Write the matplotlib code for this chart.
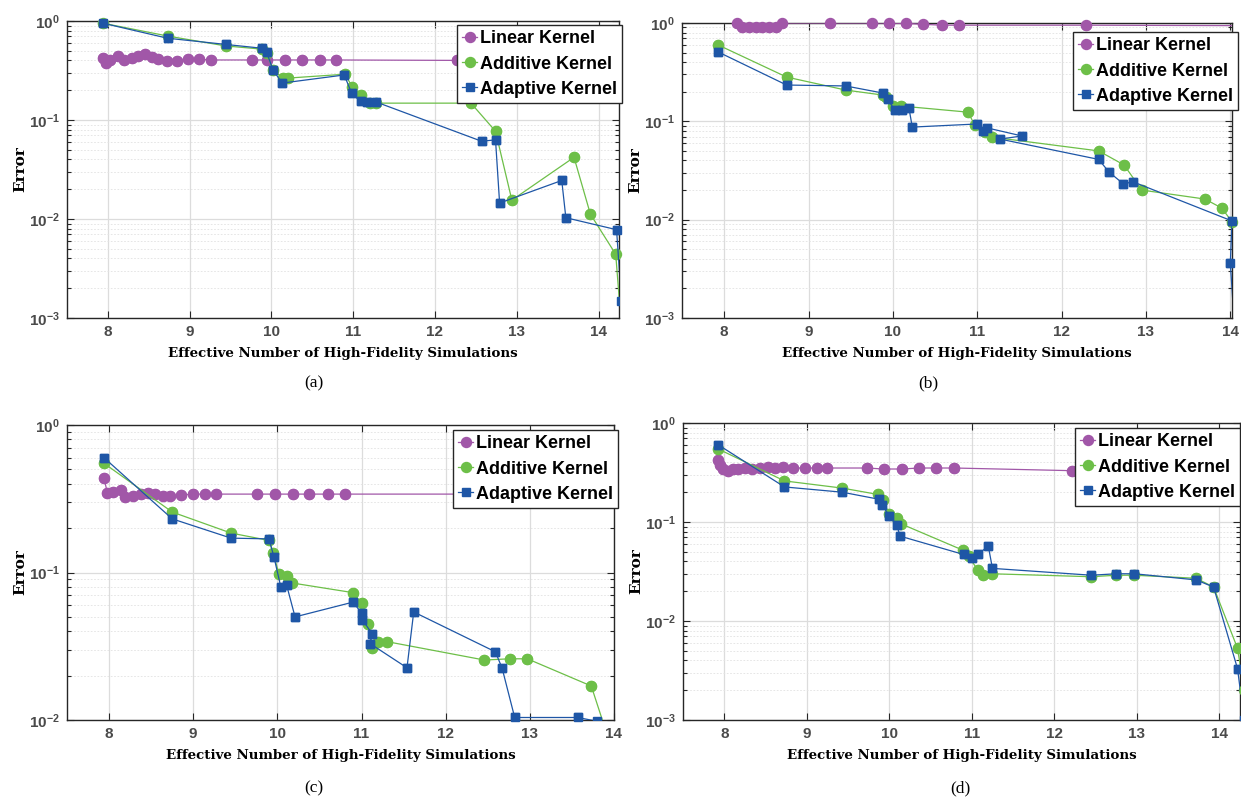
import numpy as np
import matplotlib
matplotlib.use("Agg")
import matplotlib.pyplot as plt
from matplotlib.lines import Line2D
from matplotlib.ticker import FixedLocator, LogLocator, NullLocator, NullFormatter

plt.rcParams["mathtext.fontset"] = "custom"
plt.rcParams["mathtext.rm"] = "Liberation Sans:bold"
plt.rcParams["mathtext.bf"] = "Liberation Sans:bold"
plt.rcParams["mathtext.it"] = "Liberation Sans:bold"

# ---------------- data ----------------
labels = ["Linear Kernel", "Additive Kernel", "Adaptive Kernel"]
captions = ["(a)", "(b)", "(c)", "(d)"]
x_ticks = [8, 9, 10, 11, 12, 13, 14]

# (a)
a_lin_x = [7.94, 7.98, 8.02, 8.12, 8.20, 8.29, 8.37, 8.45, 8.54, 8.61, 8.72, 8.85,
           8.98, 9.12, 9.26, 9.76, 9.94, 10.17, 10.37, 10.59, 10.79, 12.27, 14.27]
a_lin_y = [0.42, 0.373, 0.404, 0.443, 0.404, 0.42, 0.443, 0.46, 0.436, 0.41, 0.394, 0.394,
           0.41, 0.41, 0.404, 0.404, 0.404, 0.404, 0.404, 0.404, 0.404, 0.40, 0.41]
a_add_x = [7.94, 8.73, 9.44, 9.88, 9.94, 10.02, 10.14, 10.20, 10.90, 10.99, 11.10, 11.20,
           11.28, 12.44, 12.74, 12.94, 13.70, 13.90, 14.21, 14.30]
a_add_y = [0.95, 0.705, 0.56, 0.52, 0.475, 0.32, 0.265, 0.265, 0.29, 0.215, 0.18, 0.148,
           0.148, 0.148, 0.077, 0.0155, 0.042, 0.0112, 0.0044, 0.0005]
a_ada_x = [7.94, 8.73, 9.44, 9.89, 9.94, 10.02, 10.13, 10.89, 10.98, 11.09, 11.17, 11.28,
           12.57, 12.74, 12.79, 13.55, 13.60, 14.22, 14.28]
a_ada_y = [0.95, 0.67, 0.58, 0.53, 0.485, 0.32, 0.236, 0.285, 0.187, 0.155, 0.152, 0.152,
           0.061, 0.063, 0.0145, 0.0245, 0.0103, 0.0078, 0.0015]

# (b)
b_lin_x = [8.15, 8.21, 8.30, 8.38, 8.45, 8.53, 8.62, 8.69, 9.26, 9.75, 9.95, 10.16,
           10.36, 10.58, 10.78, 12.29, 14.10]
b_lin_y = [1.0, 0.92, 0.92, 0.92, 0.92, 0.92, 0.92, 1.0, 1.0, 1.0, 1.0, 0.99,
           0.97, 0.95, 0.95, 0.95, 0.94]
b_add_x = [7.93, 8.74, 9.44, 9.88, 9.92, 10.00, 10.10, 10.89, 10.97, 11.09, 11.18,
           12.44, 12.74, 12.95, 13.70, 13.90, 14.02, 14.10]
b_add_y = [0.597, 0.282, 0.208, 0.185, 0.177, 0.143, 0.143, 0.124, 0.0917, 0.078, 0.069,
           0.050, 0.036, 0.020, 0.0162, 0.0131, 0.0095, 0.006]
b_ada_x = [7.93, 8.74, 9.44, 9.88, 9.94, 10.02, 10.11, 10.19, 10.23, 11.00, 11.07, 11.11,
           11.53, 11.27, 12.44, 12.56, 12.73, 12.85, 14.02, 14.00, 14.05]
b_ada_y = [0.507, 0.234, 0.229, 0.194, 0.169, 0.13, 0.13, 0.137, 0.0874, 0.094, 0.08, 0.086,
           0.071, 0.066, 0.041, 0.0306, 0.0232, 0.0242, 0.0097, 0.0036, 0.0008]

# (c)
c_lin_x = [7.94, 7.98, 8.05, 8.14, 8.19, 8.28, 8.38, 8.46, 8.55, 8.64, 8.72, 8.85,
           9.00, 9.14, 9.27, 9.76, 9.97, 10.18, 10.38, 10.60, 10.80, 14.20]
c_lin_y = [0.437, 0.345, 0.35, 0.36, 0.325, 0.33, 0.34, 0.345, 0.34, 0.33, 0.33, 0.335,
           0.34, 0.34, 0.34, 0.34, 0.34, 0.34, 0.34, 0.34, 0.34, 0.34]
c_add_x = [7.94, 8.75, 9.45, 9.90, 9.95, 10.02, 10.12, 10.17, 10.90, 11.00, 11.08, 11.12,
           11.20, 11.30, 12.46, 12.76, 12.97, 13.73, 13.95]
c_add_y = [0.55, 0.257, 0.185, 0.165, 0.136, 0.097, 0.095, 0.085, 0.073, 0.062, 0.045, 0.031,
           0.034, 0.034, 0.0255, 0.026, 0.026, 0.017, 0.007]
c_ada_x = [7.94, 8.75, 9.45, 9.90, 9.96, 10.04, 10.11, 10.21, 10.90, 11.00, 11.01, 11.13,
           11.10, 11.54, 11.62, 12.59, 12.67, 12.82, 13.57, 13.80]
c_ada_y = [0.60, 0.231, 0.171, 0.169, 0.127, 0.080, 0.082, 0.050, 0.063, 0.053, 0.048, 0.038,
           0.033, 0.0226, 0.054, 0.029, 0.0225, 0.0104, 0.0104, 0.0098]

# (d)
d_lin_x = [7.93, 7.95, 7.99, 8.04, 8.11, 8.17, 8.25, 8.34, 8.43, 8.53, 8.62, 8.71,
           8.83, 8.98, 9.12, 9.24, 9.73, 9.93, 10.15, 10.36, 10.56, 10.79, 12.21, 14.30]
d_lin_y = [0.42, 0.376, 0.343, 0.327, 0.343, 0.343, 0.351, 0.343, 0.351, 0.359, 0.351, 0.359,
           0.351, 0.351, 0.351, 0.351, 0.351, 0.343, 0.343, 0.351, 0.351, 0.351, 0.33, 0.33]
d_add_x = [7.93, 8.73, 9.43, 9.86, 9.92, 10.00, 10.09, 10.14, 10.89, 10.96, 11.07, 11.14,
           11.24, 12.45, 12.75, 12.97, 13.72, 13.93, 14.22, 14.30]
d_add_y = [0.545, 0.26, 0.22, 0.19, 0.167, 0.12, 0.11, 0.096, 0.052, 0.045, 0.033, 0.029,
           0.030, 0.028, 0.029, 0.029, 0.027, 0.022, 0.0053, 0.002]
d_ada_x = [7.93, 8.73, 9.43, 9.87, 9.91, 10.00, 10.09, 10.13, 10.90, 11.00, 11.07, 11.20,
           11.25, 12.45, 12.75, 12.97, 13.72, 13.93, 14.22, 14.30]
d_ada_y = [0.60, 0.226, 0.20, 0.17, 0.15, 0.115, 0.094, 0.072, 0.047, 0.043, 0.047, 0.057,
           0.034, 0.029, 0.030, 0.030, 0.026, 0.022, 0.0033, 0.001]

# ---------------- style ----------------
LIN_C = "#A157A8"
ADD_C = "#6DBF48"
ADA_C = "#1E56A6"
AX_C = "#262626"
TICK_C = "#4a4a4a"

W, H = 1241, 799
fig = plt.figure(figsize=(W / 100, H / 100), dpi=100)
fig.patch.set_facecolor("white")

# pixel boxes: left, top, right, bottom
boxes = [(67, 21, 619, 318), (682, 23, 1232, 318), (67, 425, 614, 720), (683, 423, 1240, 720)]
xlims = [(7.5, 14.25), (7.5, 14.02), (7.5, 14.0), (7.5, 14.25)]
ylims = [(1e-3, 1.0), (1e-3, 1.0), (1e-2, 1.0), (1e-3, 1.0)]
legend_anchor = [(622, 25), (1238, 32), (618, 430), (1240, 428)]
caption_pos = [(314, 383), (928, 383), (314, 788), (960, 788)]

series = [
    [(a_lin_x, a_lin_y), (a_add_x, a_add_y), (a_ada_x, a_ada_y)],
    [(b_lin_x, b_lin_y), (b_add_x, b_add_y), (b_ada_x, b_ada_y)],
    [(c_lin_x, c_lin_y), (c_add_x, c_add_y), (c_ada_x, c_ada_y)],
    [(d_lin_x, d_lin_y), (d_add_x, d_add_y), (d_ada_x, d_ada_y)],
]
styles = [(LIN_C, "o", 7.2), (ADD_C, "o", 7.2), (ADA_C, "s", 6.0)]


def sup_label(e):
    return r"$\mathbf{10^{%d}}$" % e


for i, (l, t, r, b) in enumerate(boxes):
    ax = fig.add_axes([l / W, 1 - b / H, (r - l) / W, (b - t) / H])
    xl, yl = xlims[i], ylims[i]
    ax.set_yscale("log")
    ax.set_xlim(*xl)
    ax.set_ylim(*yl)

    for k, (xs, ys) in enumerate(series[i]):
        col, mk, ms = styles[k]
        xs = np.asarray(xs)
        ys = np.asarray(ys)
        z = 3 + k
        ax.plot(xs, ys, "-", color=col, lw=0.9, marker=mk, ms=ms, mfc=col, mec=col, zorder=z)
        # markers inside the limits are drawn whole, even where they touch the frame
        inside = (xs >= xl[0]) & (xs <= xl[1]) & (ys >= yl[0]) & (ys <= yl[1])
        ax.plot(xs[inside], ys[inside], ls="none", marker=mk, ms=ms, mfc=col, mec=col,
                zorder=z, clip_on=False)

    # ticks
    ax.xaxis.set_major_locator(FixedLocator(x_ticks))
    ax.xaxis.set_minor_locator(NullLocator())
    ax.set_xticklabels([str(v) for v in x_ticks], fontfamily="Liberation Sans",
                       fontweight="bold", fontsize=11, color=TICK_C)
    e0, e1 = int(np.log10(yl[0])), int(np.log10(yl[1]))
    ydec = list(range(e0, e1 + 1))
    ax.yaxis.set_major_locator(FixedLocator([10.0 ** e for e in ydec]))
    ax.set_yticklabels([sup_label(e) for e in ydec], fontsize=11, color=TICK_C)
    ax.yaxis.set_minor_locator(LogLocator(base=10, subs=np.arange(2, 10), numticks=20))
    ax.yaxis.set_minor_formatter(NullFormatter())
    ax.tick_params(which="both", direction="in", top=True, right=True, color=AX_C, width=0.8)
    ax.tick_params(which="major", length=5, pad=5)
    ax.tick_params(which="minor", length=3)

    # grid
    ax.set_axisbelow(True)
    ax.grid(True, which="major", color="#dcdcdc", lw=0.9)
    ax.grid(True, which="minor", axis="y", color="#e2e2e2", lw=0.6, ls=(0, (2, 2)))
    for sp in ax.spines.values():
        sp.set_color(AX_C)
        sp.set_linewidth(1.0)

    # axis labels
    ax.set_xlabel("Effective Number of High-Fidelity Simulations", fontfamily="DejaVu Serif",
                  fontweight="bold", fontsize=9.6, color="black")
    ax.xaxis.set_label_coords(0.5, -29 / (b - t))
    ax.xaxis.label.set_va("top")
    ax.set_ylabel("Error", fontfamily="DejaVu Serif", fontweight="bold", fontsize=11, color="black")
    ax.yaxis.set_label_coords(-40 / (r - l), 0.5)

    # legend
    handles = [Line2D([], [], color=c, marker=m, ms=s, lw=0.9, mfc=c, mec=c) for c, m, s in styles]
    lx, ly = legend_anchor[i]
    leg = ax.legend(handles, labels, loc="upper right",
                    bbox_to_anchor=((lx - l) / (r - l), (b - ly) / (b - t)),
                    prop=dict(family="Liberation Sans", weight="bold", size=13.0),
                    frameon=True, fancybox=False, framealpha=1, edgecolor=AX_C,
                    borderaxespad=0, borderpad=0.3, labelspacing=0.45,
                    handlelength=0.8, handletextpad=0.15)
    leg.get_frame().set_linewidth(1.0)
    leg.set_zorder(10)

    cx, cy = caption_pos[i]
    fig.text(cx / W, 1 - cy / H, captions[i], ha="center", va="center",
             fontfamily="Liberation Serif", fontsize=12.5)

fig.savefig("out.png", dpi=100, facecolor="white")
